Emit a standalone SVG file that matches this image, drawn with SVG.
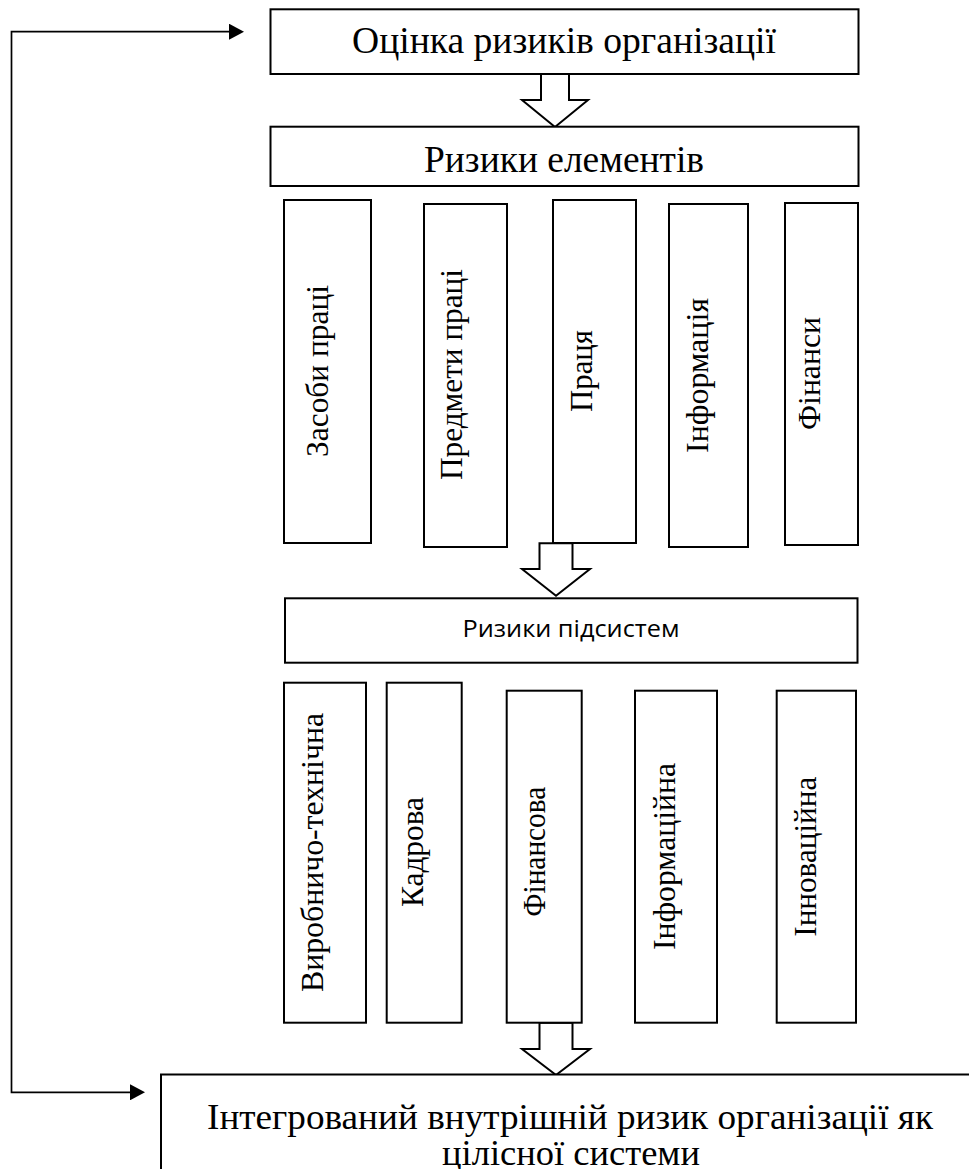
<svg xmlns="http://www.w3.org/2000/svg" width="969" height="1169" viewBox="0 0 969 1169">
<style>
.box{fill:#fff;stroke:#000;stroke-width:2}
.blk{fill:#fff;stroke:#000;stroke-width:2;stroke-linejoin:miter}
.t{font-family:"Liberation Serif","Times New Roman",serif;fill:#000;text-anchor:middle}
.h{font-size:37px}
.b{font-size:36px}
.v{font-size:32px}
.s{font-family:"Open Sans","Noto Sans","Liberation Sans",sans-serif;font-size:23px;fill:#000;text-anchor:middle}
.fb{fill:none;stroke:#000;stroke-width:1.7}
</style>
<defs>
<marker id="ah" markerUnits="userSpaceOnUse" markerWidth="15" markerHeight="16" viewBox="0 0 15 16" refX="0" refY="8" orient="auto">
<path d="M0,0 L15,8 L0,16 z" fill="#000"/>
</marker>
</defs>
<rect width="969" height="1169" fill="#fff"/>
<g id="connectors">
<path class="fb" d="M11.5,600 V31.7 H229" marker-end="url(#ah)"/>
<path class="fb" d="M11.5,600 V1092.3 H130" marker-end="url(#ah)"/>
<polygon class="blk" points="541,74 569,74 569,100 588,100 555,127 522,100 541,100"/>
<polygon class="blk" points="539.5,543.3 572.5,543.3 572.5,569 590,569 556,595.7 522,569 539.5,569"/>
<polygon class="blk" points="539.5,1022.7 572.5,1022.7 572.5,1049 590,1049 556,1075 522,1049 539.5,1049"/>
</g>
<g id="n-otsinka">
<rect class="box" x="270.5" y="9.3" width="588" height="64.7"/>
<text class="t h" x="564" y="53.3" textLength="424" lengthAdjust="spacingAndGlyphs">Оцінка ризиків організації</text>
</g>
<g id="n-elementy">
<rect class="box" x="270.5" y="126.7" width="588" height="59.3"/>
<text class="t h" x="564" y="171.7" textLength="280" lengthAdjust="spacingAndGlyphs">Ризики елементів</text>
</g>
<g id="n-zasoby">
<rect class="box" x="284" y="200" width="87" height="343"/>
<text class="t v" transform="translate(328,371) rotate(-90)" textLength="172" lengthAdjust="spacingAndGlyphs">Засоби праці</text>
</g>
<g id="n-predmety">
<rect class="box" x="424" y="204" width="83" height="343"/>
<text class="t v" transform="translate(462,374.5) rotate(-90)" textLength="211" lengthAdjust="spacingAndGlyphs">Предмети праці</text>
</g>
<g id="n-pratsia">
<rect class="box" x="553" y="200" width="83" height="343"/>
<text class="t v" transform="translate(592,371) rotate(-90)" textLength="82" lengthAdjust="spacingAndGlyphs">Праця</text>
</g>
<g id="n-informatsiia">
<rect class="box" x="669" y="204" width="79" height="343"/>
<text class="t v" transform="translate(708,375.5) rotate(-90)" textLength="155" lengthAdjust="spacingAndGlyphs">Інформація</text>
</g>
<g id="n-finansy">
<rect class="box" x="785" y="203" width="73" height="342"/>
<text class="t v" transform="translate(820,373.5) rotate(-90)" textLength="113" lengthAdjust="spacingAndGlyphs">Фінанси</text>
</g>
<g id="n-pidsystemy">
<rect class="box" x="285" y="598.3" width="572.5" height="64.4"/>
<text class="s" x="571" y="637.3" textLength="217" lengthAdjust="spacingAndGlyphs">Ризики підсистем</text>
</g>
<g id="n-vyrobnycho">
<rect class="box" x="284" y="682.7" width="82" height="340"/>
<text class="t v" transform="translate(323,852.5) rotate(-90)" textLength="279" lengthAdjust="spacingAndGlyphs">Виробничо-технічна</text>
</g>
<g id="n-kadrova">
<rect class="box" x="386.7" y="682.7" width="75" height="340"/>
<text class="t v" transform="translate(423,852) rotate(-90)" textLength="110" lengthAdjust="spacingAndGlyphs">Кадрова</text>
</g>
<g id="n-finansova">
<rect class="box" x="506.7" y="690.7" width="75" height="332"/>
<text class="t v" transform="translate(545,851.7) rotate(-90)" textLength="130" lengthAdjust="spacingAndGlyphs">Фінансова</text>
</g>
<g id="n-informatsiina">
<rect class="box" x="635" y="690.7" width="82" height="332"/>
<text class="t v" transform="translate(675,856.5) rotate(-90)" textLength="187" lengthAdjust="spacingAndGlyphs">Інформаційна</text>
</g>
<g id="n-innovatsiina">
<rect class="box" x="776.7" y="690.7" width="79.3" height="332"/>
<text class="t v" transform="translate(816,856.7) rotate(-90)" textLength="160" lengthAdjust="spacingAndGlyphs">Інноваційна</text>
</g>
<g id="n-integrovanyi">
<rect class="box" x="161" y="1074.5" width="900" height="200"/>
<text class="t b" x="570" y="1129" textLength="726" lengthAdjust="spacingAndGlyphs">Інтегрований внутрішній ризик організації як</text>
<text class="t b" x="571" y="1165" textLength="258" lengthAdjust="spacingAndGlyphs">цілісної системи</text>
</g>
</svg>
